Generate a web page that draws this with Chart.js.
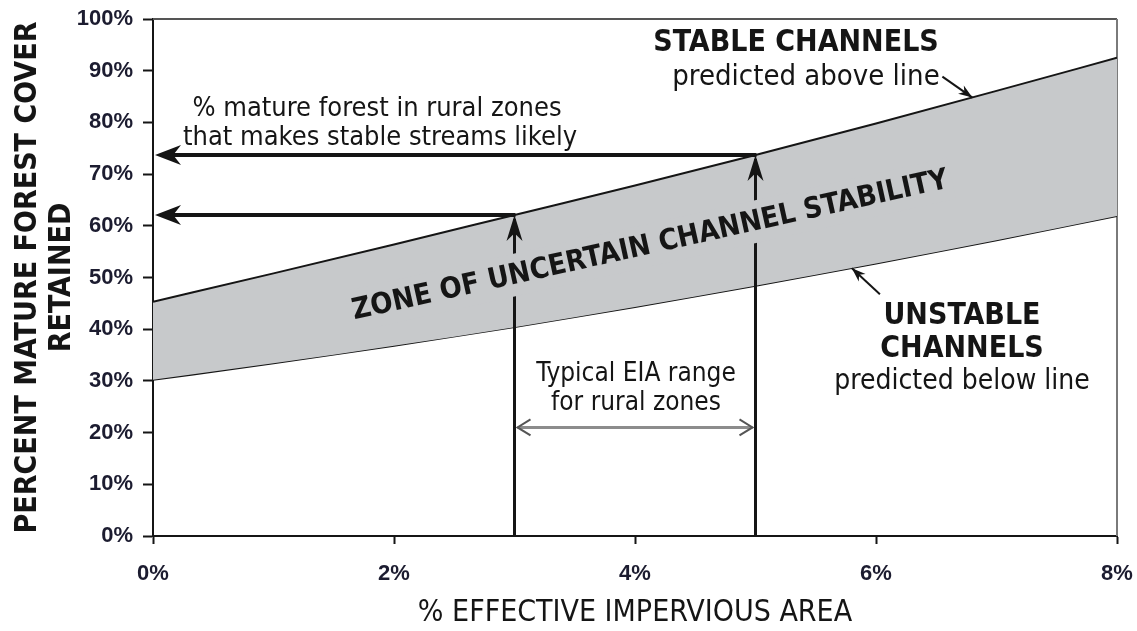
<!DOCTYPE html>
<html>
<head>
<meta charset="utf-8">
<script src="https://cdn.jsdelivr.net/npm/chart.js@4.4.1/dist/chart.umd.min.js"></script>
<style>
  html, body { margin: 0; padding: 0; background: #fff; }
  #wrap { width: 1137px; height: 631px; }
</style>
</head>
<body>
<div id="wrap"><canvas id="chart" width="1137" height="631"></canvas></div>
<script>
// % effective impervious area (x) and forest cover retained (y, %)
const eiaPct = [0, 1, 2, 3, 4, 5, 6, 7, 8];
const stableLine = [45.3, 50.8, 56.4, 62.1, 67.8, 73.7, 79.8, 86.1, 92.5];
const unstableLine = [30.2, 33.4, 36.8, 40.4, 44.3, 48.4, 52.7, 57.2, 61.9];
const xTicks = [0, 2, 4, 6, 8];
const yTicks = [0, 10, 20, 30, 40, 50, 60, 70, 80, 90, 100];
// typical EIA range for rural zones, and the typical-range arrow height
const ruralEIA = [3, 5];
const rangeArrowAt = 21;

const NARROW = "'Liberation Sans Narrow', 'DejaVu Sans Condensed', 'Liberation Sans', sans-serif";
const BOLD = "'Liberation Sans', Arial, sans-serif";
const BAND = '#c7c9cb';
const INK = '#151515';

const toXY = (ys) => eiaPct.map((x, i) => ({ x, y: ys[i] }));
const forestAt = (e) => stableLine[eiaPct.indexOf(e)];

function head(ctx, x, y, ang, len, half) {
  ctx.save();
  ctx.translate(x, y);
  ctx.rotate(ang);
  ctx.beginPath();
  ctx.moveTo(0, 0);
  ctx.lineTo(-len, -half);
  ctx.lineTo(-len * 0.7, 0);
  ctx.lineTo(-len, half);
  ctx.closePath();
  ctx.fill();
  ctx.restore();
}

function chevron(ctx, x, y, ang, len, half) {
  ctx.save();
  ctx.translate(x, y);
  ctx.rotate(ang);
  ctx.beginPath();
  ctx.moveTo(-len, -half);
  ctx.lineTo(0, 0);
  ctx.lineTo(-len, half);
  ctx.stroke();
  ctx.restore();
}

function text(ctx, s, x, y, font, color) {
  ctx.font = font;
  ctx.fillStyle = color || INK;
  ctx.textAlign = 'center';
  ctx.textBaseline = 'middle';
  ctx.fillText(s, x, y);
}

const frame = {
  id: 'frame',
  beforeDatasetsDraw(chart) {
    const { ctx, chartArea: a } = chart;
    ctx.save();
    ctx.lineWidth = 2;
    ctx.strokeStyle = '#555';
    ctx.beginPath(); ctx.moveTo(a.left, a.top); ctx.lineTo(a.right, a.top); ctx.stroke();
    ctx.strokeStyle = '#7a7a7a';
    ctx.beginPath(); ctx.moveTo(a.right, a.top); ctx.lineTo(a.right, a.bottom); ctx.stroke();
    ctx.restore();
  }
};

const notes = {
  id: 'notes',
  afterDatasetsDraw(chart) {
    const { ctx } = chart;
    const xs = chart.scales.x, ys = chart.scales.y;
    const px = (v) => xs.getPixelForValue(v);
    const py = (v) => ys.getPixelForValue(v);
    ctx.save();
    ctx.fillStyle = INK;
    ctx.strokeStyle = INK;

    // vertical lines up from the EIA range, horizontal arrows to the y axis
    for (const e of ruralEIA) {
      const x = px(e), yTop = py(forestAt(e));
      ctx.lineWidth = 3;
      ctx.beginPath(); ctx.moveTo(x, py(0)); ctx.lineTo(x, yTop + 4); ctx.stroke();
      head(ctx, x, yTop, -Math.PI / 2, 26, 8);
      ctx.lineWidth = 4;
      ctx.beginPath(); ctx.moveTo(x + 1, yTop); ctx.lineTo(px(0) + 14, yTop); ctx.stroke();
      head(ctx, px(0) + 2, yTop, Math.PI, 26, 10);
    }

    // zone label, with a band-coloured box hiding the vertical lines
    ctx.save();
    ctx.translate(650, 245);
    ctx.rotate(-12.5 * Math.PI / 180);
    ctx.font = "bold 29px " + NARROW;
    const w = ctx.measureText('ZONE OF UNCERTAIN CHANNEL STABILITY').width;
    ctx.fillStyle = BAND;
    ctx.fillRect(-w / 2 - 4, -21, w + 8, 42);
    text(ctx, 'ZONE OF UNCERTAIN CHANNEL STABILITY', 0, 1, "bold 29px " + NARROW);
    ctx.restore();

    // typical EIA range double arrow
    const yr = py(rangeArrowAt);
    ctx.strokeStyle = '#8c8c8c';
    ctx.lineWidth = 3;
    ctx.beginPath(); ctx.moveTo(px(ruralEIA[0]) + 3, yr); ctx.lineTo(px(ruralEIA[1]) - 3, yr); ctx.stroke();
    ctx.strokeStyle = '#555';
    ctx.lineWidth = 2;
    chevron(ctx, px(ruralEIA[0]) + 3, yr, Math.PI, 13, 8);
    chevron(ctx, px(ruralEIA[1]) - 3, yr, 0, 13, 8);

    // pointer arrows to the two lines
    ctx.strokeStyle = INK;
    ctx.fillStyle = INK;
    ctx.lineWidth = 2;
    const sx = px(6.8), sy = py(84.8);
    ctx.beginPath(); ctx.moveTo(sx - 30, sy - 21); ctx.lineTo(sx, sy); ctx.stroke();
    head(ctx, sx, sy, Math.atan2(21, 30), 14, 5);
    const ux = px(5.8), uy = py(51.8);
    ctx.beginPath(); ctx.moveTo(ux + 28, uy + 26); ctx.lineTo(ux, uy); ctx.stroke();
    head(ctx, ux, uy, Math.atan2(-26, -28), 14, 5);

    // labels
    text(ctx, 'STABLE CHANNELS', 796, 43, "bold 30px " + NARROW);
    text(ctx, 'predicted above line', 806, 77, "29px " + NARROW);
    text(ctx, '% mature forest in rural zones', 377, 109, "27px " + NARROW);
    text(ctx, 'that makes stable streams likely', 380, 138, "27px " + NARROW);
    text(ctx, 'Typical EIA range', 636, 374, "26px " + NARROW);
    text(ctx, 'for rural zones', 636, 403, "26px " + NARROW);
    text(ctx, 'UNSTABLE', 962, 316, "bold 30px " + NARROW);
    text(ctx, 'CHANNELS', 962, 349, "bold 30px " + NARROW);
    text(ctx, 'predicted below line', 962, 382, "28px " + NARROW);
    ctx.restore();
  }
};

new Chart(document.getElementById('chart'), {
  type: 'line',
  data: {
    datasets: [
      { label: 'Stable channels', data: toXY(stableLine), borderColor: INK, borderWidth: 2,
        backgroundColor: BAND, fill: '+1', pointRadius: 0, cubicInterpolationMode: 'monotone' },
      { label: 'Unstable channels', data: toXY(unstableLine), borderColor: INK, borderWidth: 2,
        fill: false, pointRadius: 0, cubicInterpolationMode: 'monotone' }
    ]
  },
  options: {
    responsive: false,
    animation: false,
    layout: { padding: { top: 19, right: 20, left: 0, bottom: 0 } },
    plugins: { legend: { display: false }, tooltip: { enabled: false } },
    scales: {
      x: {
        type: 'linear', min: 0, max: 8,
        afterBuildTicks: (s) => { s.ticks = xTicks.map((v) => ({ value: v })); },
        afterFit: (s) => { s.height = 95; s.paddingLeft = 0; s.paddingRight = 0; },
        grid: { drawOnChartArea: false, drawTicks: true, tickLength: 8, tickColor: INK, tickWidth: 2 },
        border: { color: INK, width: 2 },
        ticks: { padding: 17, color: '#1c1c30', font: { family: BOLD, size: 22, weight: 'bold' },
          callback: (v) => v + '%' },
        title: { display: true, text: '% EFFECTIVE IMPERVIOUS AREA', color: INK,
          font: { family: NARROW, size: 30 }, padding: { top: 0, bottom: 0 } }
      },
      y: {
        min: 0, max: 100,
        afterBuildTicks: (s) => { s.ticks = yTicks.map((v) => ({ value: v })); },
        afterFit: (s) => { s.width = 153; s.paddingTop = 0; s.paddingBottom = 0; },
        grid: { drawOnChartArea: false, drawTicks: true, tickLength: 10, tickColor: INK, tickWidth: 2 },
        border: { color: INK, width: 2 },
        ticks: { padding: 10, color: '#1c1c30', font: { family: BOLD, size: 22, weight: 'bold' },
          callback: (v) => v + '%' },
        title: { display: true, text: ['PERCENT MATURE FOREST COVER', 'RETAINED'], color: INK,
          font: { family: NARROW, size: 30, weight: 'bold', lineHeight: 1.13 }, padding: { top: 11 } }
      }
    }
  },
  plugins: [frame, notes]
});
</script>
</body>
</html>
